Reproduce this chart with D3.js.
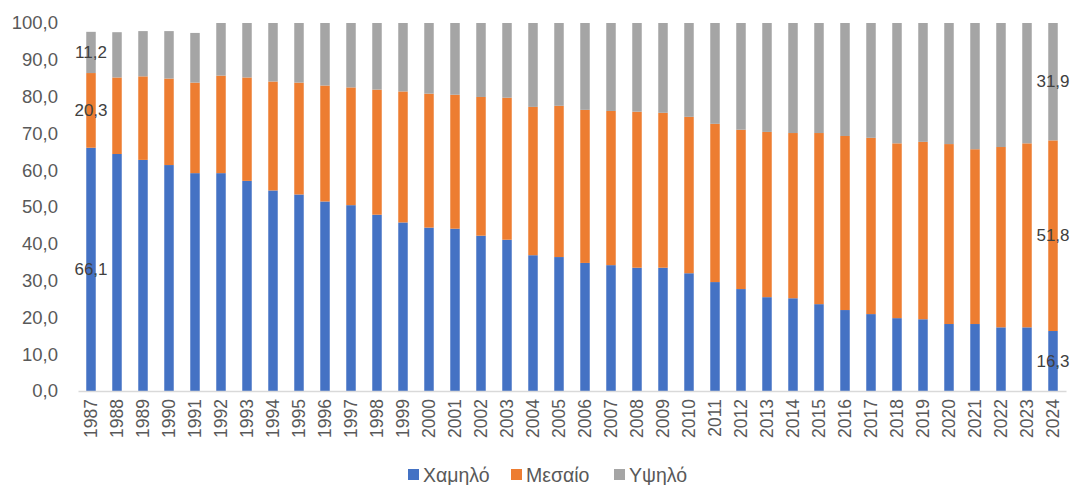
<!DOCTYPE html>
<html>
<head>
<meta charset="utf-8">
<script src="https://cdn.jsdelivr.net/npm/d3@7"></script>
<style>
  body { margin: 0; background: #fff; }
  svg { font-family: "Liberation Sans", Arial, sans-serif; }
</style>
</head>
<body>
<div id="chart"></div>
<script>
// years on the x axis
var years = [1987, 1988, 1989, 1990, 1991, 1992, 1993, 1994, 1995, 1996,
  1997, 1998, 1999, 2000, 2001, 2002, 2003, 2004, 2005, 2006,
  2007, 2008, 2009, 2010, 2011, 2012, 2013, 2014, 2015, 2016,
  2017, 2018, 2019, 2020, 2021, 2022, 2023, 2024];

var low = [66.1, 64.4, 62.8, 61.4, 59.2, 59.2, 57.1, 54.5, 53.4, 51.5,
  50.5, 47.9, 45.8, 44.4, 44.1, 42.2, 41.1, 36.9, 36.4, 34.8,
  34.2, 33.5, 33.5, 32.0, 29.6, 27.7, 25.5, 25.2, 23.6, 22.0,
  20.9, 19.8, 19.5, 18.2, 18.2, 17.3, 17.3, 16.3];

var mid = [20.3, 20.8, 22.7, 23.5, 24.6, 26.5, 28.1, 29.6, 30.4, 31.5,
  32.0, 34.0, 35.6, 36.4, 36.4, 37.7, 38.6, 40.3, 41.1, 41.6,
  41.9, 42.4, 42.1, 42.5, 43.0, 43.3, 44.9, 44.9, 46.5, 47.3,
  47.9, 47.5, 48.2, 48.9, 47.5, 49.0, 50.0, 51.8];

var high = [11.2, 12.3, 12.3, 12.9, 13.5, 14.3, 14.8, 15.9, 16.2, 17.0,
  17.5, 18.1, 18.6, 19.2, 19.5, 20.1, 20.3, 22.8, 22.5, 23.6,
  23.9, 24.1, 24.4, 25.5, 27.4, 29.0, 29.6, 29.9, 29.9, 30.7,
  31.2, 32.7, 32.3, 32.9, 34.3, 33.7, 32.7, 31.9];

var seriesNames = ["Χαμηλό", "Μεσαίο", "Υψηλό"];
var keys = ["low", "mid", "high"];
var colors = ["#4472C4", "#ED7D31", "#A5A5A5"];
var yTicks = [0, 10, 20, 30, 40, 50, 60, 70, 80, 90, 100];

var width = 1074, height = 485;
var margin = {top: 23, right: 8, bottom: 94, left: 78};

var rows = years.map(function (y, i) {
  return {year: y, low: low[i], mid: mid[i], high: high[i]};
});

var svg = d3.select("#chart").append("svg")
    .attr("width", width)
    .attr("height", height);

var x = d3.scaleBand()
    .domain(years)
    .range([margin.left, width - margin.right])
    .paddingInner(0.635)
    .paddingOuter(0.3175);

var y = d3.scaleLinear()
    .domain([0, 100])
    .range([height - margin.bottom, margin.top]);

var fmt = function (v) { return d3.format(".1f")(v).replace(".", ","); };

var stacked = d3.stack().keys(keys)(rows);

//bars
svg.append("g").selectAll("g")
    .data(stacked)
  .enter().append("g")
    .attr("fill", function (d, i) { return colors[i]; })
  .selectAll("rect")
    .data(function (d) { return d; })
  .enter().append("rect")
    .attr("x", function (d) { return x(d.data.year); })
    .attr("y", function (d) { return y(d[1]); })
    .attr("width", x.bandwidth())
    .attr("height", function (d) { return y(d[0]) - y(d[1]); });

// data labels only on first and last year
var labelYears = [years[0], years[years.length - 1]];
stacked.forEach(function (s) {
  svg.append("g").selectAll("text")
      .data(s.filter(function (d) { return labelYears.indexOf(d.data.year) >= 0; }))
    .enter().append("text")
      .attr("x", function (d) { return x(d.data.year) + x.bandwidth() / 2; })
      .attr("y", function (d) { return y((d[0] + d[1]) / 2); })
      .attr("text-anchor", "middle")
      .attr("dominant-baseline", "central")
      .attr("font-size", 17)
      .attr("fill", "#404040")
      .text(function (d) { return fmt(d[1] - d[0]); });
});

// y axis
var yAxis = svg.append("g")
    .attr("transform", "translate(" + (margin.left - 20) + ",0)")
    .call(d3.axisLeft(y).tickValues(yTicks).tickFormat(fmt).tickSize(0));
yAxis.select(".domain").remove();
yAxis.selectAll("text")
    .attr("font-size", 18.5)
    .attr("font-family", "Liberation Sans, Arial, sans-serif")
    .attr("fill", "#595959")
    .attr("x", 0);

// x axis
var xAxis = svg.append("g")
    .attr("transform", "translate(0," + y(0) + ")")
    .call(d3.axisBottom(x).tickSize(0));
xAxis.select(".domain").attr("stroke", "#D9D9D9").attr("stroke-width", 1.3);
xAxis.selectAll("text")
    .attr("font-size", 17.5)
    .attr("font-family", "Liberation Sans, Arial, sans-serif")
    .attr("fill", "#595959")
    .attr("transform", "rotate(-90)")
    .attr("x", -8)
    .attr("y", 0)
    .attr("dy", "0.35em")
    .attr("text-anchor", "end");

// legend
var legendX = [408, 511, 614];
var legend = svg.append("g");
seriesNames.forEach(function (name, i) {
  legend.append("rect")
      .attr("x", legendX[i])
      .attr("y", 469)
      .attr("width", 11)
      .attr("height", 11)
      .attr("fill", colors[i]);
  legend.append("text")
      .attr("x", legendX[i] + 15)
      .attr("y", 475)
      .attr("dominant-baseline", "central")
      .attr("font-size", 19.5)
      .attr("fill", "#595959")
      .text(name);
});
</script>
</body>
</html>
